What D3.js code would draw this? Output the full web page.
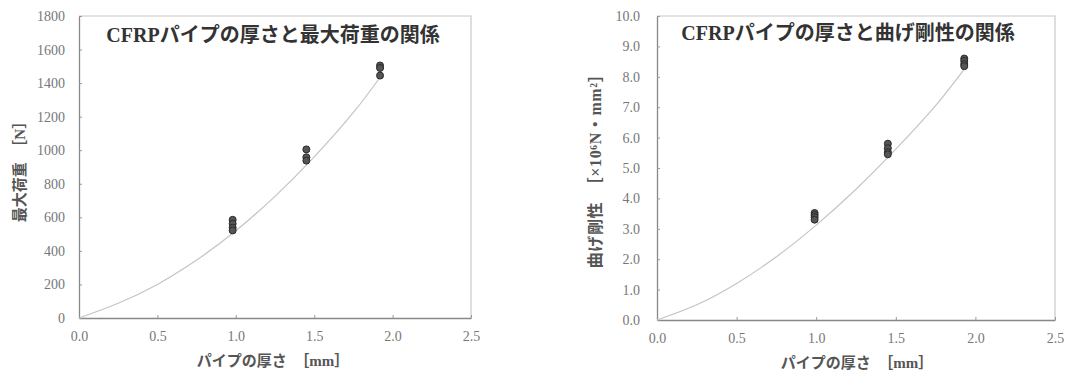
<!DOCTYPE html>
<html><head><meta charset="utf-8">
<script src="https://cdn.jsdelivr.net/npm/d3@7"></script>
<style>
html,body{margin:0;padding:0;background:#fff;}
svg{display:block;}
</style></head>
<body>
<svg id="chart" width="1067" height="374"></svg>
<script>
// ---- data ----
const thicknessTicks = [0.0, 0.5, 1.0, 1.5, 2.0, 2.5];

// Left: max load [N]
const loadTitle = "CFRPパイプの厚さと最大荷重の関係";
const loadYLabel = "最大荷重　［N］";
const loadYTicks = [0, 200, 400, 600, 800, 1000, 1200, 1400, 1600, 1800];
const loadX = [0.98, 0.98, 0.98, 0.98, 1.45, 1.45, 1.45, 1.92, 1.92, 1.92];
const loadY = [585, 562, 538, 522, 1005, 958, 938, 1505, 1490, 1445];
const loadCurveX = [0, 0.25, 0.5, 0.75, 1.0, 1.25, 1.5, 1.75, 1.92];
const loadCurveY = [0, 88, 200, 345, 520, 725, 960, 1225, 1435];

// Right: bending stiffness [x10^6 N·mm^2]
const stiffTitle = "CFRPパイプの厚さと曲げ剛性の関係";
const stiffYLabel = "曲げ剛性　［×10⁶N・mm²］";
const stiffYTicks = [0, 1, 2, 3, 4, 5, 6, 7, 8, 9, 10];
const stiffX = [0.99, 0.99, 0.99, 0.99, 1.45, 1.45, 1.45, 1.45, 1.93, 1.93, 1.93, 1.93];
const stiffY = [3.52, 3.45, 3.38, 3.30, 5.80, 5.65, 5.52, 5.45, 8.60, 8.52, 8.42, 8.35];
const stiffCurveX = [0, 0.25, 0.5, 0.75, 1.0, 1.25, 1.5, 1.75, 1.93];
const stiffCurveY = [0, 0.5, 1.2, 2.08, 3.12, 4.3, 5.62, 7.05, 8.25];

const xLabel = "パイプの厚さ　［mm］";

const svg = d3.select("#chart");
const serif = "'Liberation Serif','DejaVu Serif','Noto Sans CJK JP',serif";

function panel(cfg) {
  const g = svg.append("g");
  const x = d3.scaleLinear().domain([0, 2.5]).range([cfg.left, cfg.right]);
  const y = d3.scaleLinear().domain([0, cfg.yMax]).range([cfg.bottom, cfg.top]);

  // frame top/right
  g.append("path")
    .attr("d", `M${cfg.left},${cfg.top}H${cfg.right}V${cfg.bottom}`)
    .attr("fill", "none").attr("stroke", "#c8c8c8").attr("stroke-width", 1.2);

  // x axis
  const xa = g.append("g").attr("transform", `translate(0,${cfg.bottom})`)
    .call(d3.axisBottom(x).tickValues(thicknessTicks).tickFormat(d3.format(".1f")).tickSizeInner(-3).tickSizeOuter(0).tickPadding(13));
  xa.select(".domain").attr("stroke", "#888").attr("stroke-width", 1.3);
  xa.selectAll(".tick line").attr("stroke", "#999");
  xa.selectAll("text").attr("font-family", serif).attr("font-size", 14).attr("fill", "#777");

  // y axis
  const ya = g.append("g").attr("transform", `translate(${cfg.left},0)`)
    .call(d3.axisLeft(y).tickValues(cfg.yTicks).tickFormat(cfg.yFmt).tickSizeInner(-3).tickSizeOuter(0).tickPadding(cfg.yPad));
  ya.select(".domain").attr("stroke", "#888").attr("stroke-width", 1.3);
  ya.selectAll(".tick line").attr("stroke", "#999");
  ya.selectAll("text").attr("font-family", serif).attr("font-size", 14).attr("fill", "#777");

  // trend curve
  const line = d3.line().x((d, i) => x(cfg.cx[i])).y(d => y(d)).curve(d3.curveNatural);
  g.append("path").datum(cfg.cy).attr("d", line)
    .attr("fill", "none").attr("stroke", "#c4c4c4").attr("stroke-width", 1.2);

  // points
  g.selectAll("circle.pt").data(cfg.py).enter().append("circle")
    .attr("class", "pt")
    .attr("cx", (d, i) => x(cfg.px[i])).attr("cy", d => y(d)).attr("r", 3.5)
    .attr("fill", "#555").attr("stroke", "#2a2a2a").attr("stroke-width", 1);

  // title
  g.append("text").attr("x", cfg.titleX).attr("y", cfg.titleY)
    .attr("text-anchor", "middle").attr("font-family", serif)
    .attr("font-weight", "bold").attr("font-size", 20).attr("fill", "#333")
    .text(cfg.title);

  // x label
  g.append("text").attr("x", (cfg.left + cfg.right) / 2 + cfg.xLabelShift).attr("y", cfg.bottom + 48)
    .attr("text-anchor", "middle").attr("font-family", serif)
    .attr("font-weight", "bold").attr("font-size", 15).attr("fill", "#555")
    .text(xLabel);

  // y label
  g.append("text")
    .attr("transform", `translate(${cfg.yLabelX},${cfg.yLabelY}) rotate(-90)`)
    .attr("text-anchor", "middle").attr("font-family", serif)
    .attr("font-weight", "bold").attr("font-size", cfg.yLabelSize).attr("fill", "#555")
    .attr("letter-spacing", cfg.yLabelSpacing)
    .text(cfg.yLabel);
}

panel({
  left: 79, right: 471, top: 16, bottom: 318, yMax: 1800,
  yTicks: loadYTicks, yFmt: d3.format("d"), yPad: 14,
  px: loadX, py: loadY, cx: loadCurveX, cy: loadCurveY,
  title: loadTitle, titleX: 273, titleY: 42,
  yLabel: loadYLabel, yLabelX: 25, yLabelY: 168, yLabelSize: 15, yLabelSpacing: 0,
  xLabelShift: -2
});

panel({
  left: 657, right: 1055, top: 16, bottom: 320, yMax: 10,
  yTicks: stiffYTicks, yFmt: d3.format(".1f"), yPad: 17,
  px: stiffX, py: stiffY, cx: stiffCurveX, cy: stiffCurveY,
  title: stiffTitle, titleX: 848, titleY: 40,
  yLabel: stiffYLabel, yLabelX: 601, yLabelY: 167, yLabelSize: 16, yLabelSpacing: 0.6,
  xLabelShift: 1
});
</script>
</body></html>
